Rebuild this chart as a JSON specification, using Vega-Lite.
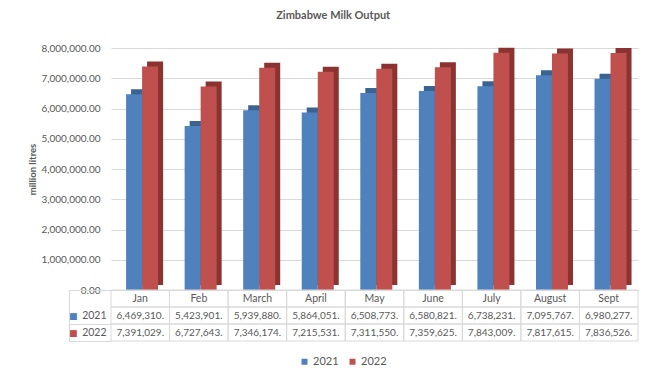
{
  "$schema": "https://vega.github.io/schema/vega-lite/v6.json",
  "background": "white",
  "padding": {"left": 27, "top": 10, "right": 5, "bottom": 5},
  "title": {"text": "Zimbabwe Milk Output", "fontSize": 11, "fontWeight": "bold", "font": "Lato", "color": "#595959", "anchor": "middle", "offset": 22},
  "config": {"font": "Lato", "view": {"stroke": null}, "concat": {"spacing": 0},
    "legend": {"direction": "horizontal", "title": null, "symbolType": "square", "symbolSize": 36, "labelFontSize": 11, "labelColor": "#595959", "labelFont": "Lato", "symbolStrokeWidth": 0, "columnPadding": 8, "labelOffset": 3}},
  "datasets": {
    "milk": [
      {"month": "Jan", "year": "2021", "value": 6469310},
      {"month": "Feb", "year": "2021", "value": 5423901},
      {"month": "March", "year": "2021", "value": 5939880},
      {"month": "April", "year": "2021", "value": 5864051},
      {"month": "May", "year": "2021", "value": 6508773},
      {"month": "June", "year": "2021", "value": 6580821},
      {"month": "July", "year": "2021", "value": 6738231},
      {"month": "August", "year": "2021", "value": 7095767},
      {"month": "Sept", "year": "2021", "value": 6980277},
      {"month": "Jan", "year": "2022", "value": 7391029},
      {"month": "Feb", "year": "2022", "value": 6727643},
      {"month": "March", "year": "2022", "value": 7346174},
      {"month": "April", "year": "2022", "value": 7215531},
      {"month": "May", "year": "2022", "value": 7311550},
      {"month": "June", "year": "2022", "value": 7359625},
      {"month": "July", "year": "2022", "value": 7843009},
      {"month": "August", "year": "2022", "value": 7817615},
      {"month": "Sept", "year": "2022", "value": 7836526}
    ]
  },
  "resolve": {"scale": {"x": "independent", "y": "independent"}},
  "spacing": 0,
  "bounds": "flush",
  "vconcat": [
    {
      "width": 527,
      "height": 242,
      "data": {"name": "milk"},
      "encoding": {
        "x": {"field": "month", "type": "nominal", "sort": ["Jan","Feb","March","April","May","June","July","August","Sept"], "scale": {"paddingInner": 0.368, "paddingOuter": 0.184, "align": 0.7}, "axis": null},
        "y": {"field": "value", "type": "quantitative", "scale": {"domain": [0, 8000000]},
          "axis": {"title": "million litres", "format": ",.2f", "values": [0,1000000,2000000,3000000,4000000,5000000,6000000,7000000,8000000], "grid": true, "gridColor": "#d9d9d9", "domain": false, "ticks": false, "labelPadding": 11, "labelFontSize": 10, "labelColor": "#595959", "labelFont": "Lato", "titleFontSize": 9.5, "titleFontWeight": "bold", "titleColor": "#595959", "titleFont": "Lato", "titlePadding": 3}}
      },
      "resolve": {"scale": {"xOffset": "independent"}},
      "layer": [
        {"mark": {"type": "bar", "yOffset": -5},
         "encoding": {
           "xOffset": {"field": "year", "type": "nominal", "sort": ["2021","2022"], "scale": {"paddingInner": 0, "paddingOuter": 0.156, "align": 1}},
           "fill": {"condition": {"test": "datum.year === '2021'", "value": "#3A6392"}, "value": "#8A3331"}}},
        {"mark": {"type": "bar"},
         "encoding": {
           "xOffset": {"field": "year", "type": "nominal", "sort": ["2021","2022"], "scale": {"paddingInner": 0, "paddingOuter": 0.156, "align": 0}},
           "color": {"field": "year", "type": "nominal", "scale": {"domain": ["2021","2022"], "range": ["#4F81BD","#C0504D"]},
             "legend": {"orient": "none", "legendX": 188, "legendY": 308, "direction": "horizontal"}}}}
      ]
    },
    {
      "width": 527,
      "height": 51,
      "encoding": {
        "x": {"field": "month", "type": "nominal", "sort": ["Jan","Feb","March","April","May","June","July","August","Sept"], "scale": {"paddingInner": 0, "paddingOuter": 0}, "axis": null}
      },
      "resolve": {"axis": {"y": "independent"}},
      "layer": [
        {
          "data": {"name": "milk"},
          "mark": {"type": "rect", "fill": null, "stroke": "#d9d9d9", "strokeWidth": 1},
          "encoding": {
            "y": {"field": "year", "type": "nominal", "scale": {"domain": ["Month","2021","2022"], "paddingInner": 0, "paddingOuter": 0},
              "axis": {"orient": "left", "offset": 42, "title": null, "ticks": false, "domain": true, "domainColor": "#d9d9d9", "labelExpr": "datum.value === 'Month' ? '' : '■'", "labelColor": {"condition": {"test": "datum.value === '2021'", "value": "#4F81BD"}, "value": "#C0504D"}, "labelPadding": -8, "labelFontSize": 9, "labelFont": "DejaVu Sans"}}
          }
        },
        {
          "data": {"name": "milk"},
          "transform": [{"calculate": "format(datum.value, ',.0f') + '.'", "as": "label"}],
          "mark": {"type": "text", "fontSize": 10, "color": "#595959", "font": "Lato"},
          "encoding": {
            "y": {"field": "year", "type": "nominal",
              "axis": {"orient": "left", "title": null, "domain": false, "tickBand": "extent", "tickSize": 42, "tickColor": "#d9d9d9", "tickOpacity": {"condition": {"test": "datum.value === 'Month'", "value": 0}, "value": 1}, "labelExpr": "datum.value === 'Month' ? '' : datum.value", "labelPadding": -37, "labelFontSize": 10.5, "labelColor": "#595959", "labelFont": "Lato"}},
            "text": {"field": "label"}
          }
        },
        {
          "data": {"name": "milk"},
          "transform": [{"filter": "datum.year === '2021'"}],
          "mark": {"type": "rect", "fill": null, "stroke": "#d9d9d9", "strokeWidth": 1},
          "encoding": {"y": {"datum": "Month", "type": "nominal", "axis": null}}
        },
        {
          "data": {"name": "milk"},
          "transform": [{"filter": "datum.year === '2021'"}],
          "mark": {"type": "text", "fontSize": 10.5, "color": "#595959", "font": "Lato"},
          "encoding": {"y": {"datum": "Month", "type": "nominal", "axis": null}, "text": {"field": "month"}}
        }
      ]
    }
  ]
}
